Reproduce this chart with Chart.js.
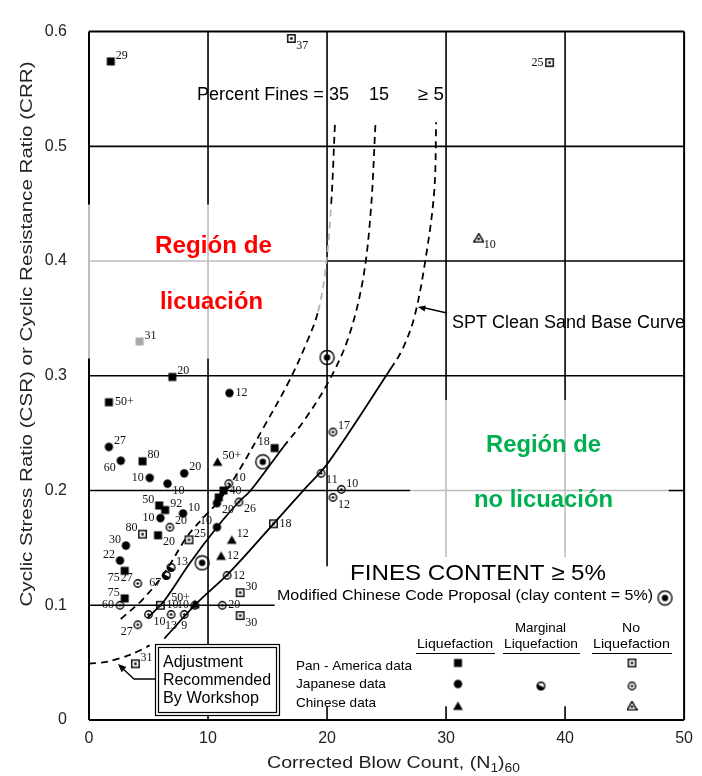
<!DOCTYPE html>
<html><head><meta charset="utf-8">
<script src="https://cdn.jsdelivr.net/npm/chart.js@4.4.1/dist/chart.umd.min.js"></script>
<style>html,body{margin:0;padding:0;background:#fff}canvas{display:block}</style>
</head><body>
<canvas id="c" width="702" height="776"></canvas>
<script>
// ---- axes ----
const xTickValues = [0, 10, 20, 30, 40, 50];
const yTickValues = [0, 0.1, 0.2, 0.3, 0.4, 0.5, 0.6];

// ---- CRR curves (N1)60 vs CRR ----
const fines35N   = [2.67, 4.5, 6.33, 8.25, 9.67, 10.92, 12.58, 14.67, 16.75, 18.25, 19.25, 19.9, 20.35, 20.67];
const fines35CRR = [0.088, 0.105, 0.128, 0.160, 0.177, 0.191, 0.217, 0.255, 0.294, 0.328, 0.356, 0.395, 0.450, 0.521];
const fines15N   = [4.92, 6.33, 8.42, 10.75, 12.58, 13.58, 16.33, 18.0, 20.08, 21.75, 23.0, 23.67, 24.08];
const fines15CRR = [0.089, 0.104, 0.136, 0.168, 0.190, 0.200, 0.238, 0.260, 0.294, 0.332, 0.383, 0.443, 0.522];
const cleanN     = [6.33, 9.08, 11.75, 15.5, 18.0, 20.08, 25.33, 26.33, 27.33, 28.25, 29.0, 29.17];
const cleanCRR   = [0.071, 0.102, 0.128, 0.171, 0.200, 0.224, 0.306, 0.323, 0.351, 0.400, 0.460, 0.521];
const workshopN   = [0, 1.6, 3.5, 5.1];
const workshopCRR = [0.049, 0.051, 0.057, 0.065];

// ---- Pan-American data ----
const panLiqN     = [1.83, 1.67, 7.0, 4.5, 15.6, 11.3, 10.9, 5.9, 6.4, 5.8, 3.0, 3.0];
const panLiqCSR   = [0.574, 0.277, 0.299, 0.2255, 0.237, 0.200, 0.194, 0.187, 0.183, 0.161, 0.130, 0.106];
const panLiqFines = ["29", "50+", "20", "80", "18", "40", "", "50", "92", "20", "75", "75"];
const panLiqGreyN = [4.25];
const panLiqGreyCSR = [0.330];
const panLiqGreyFines = ["31"];
const panNoN     = [17.0, 38.7, 15.5, 4.5, 8.4, 6.0, 12.7, 12.7, 3.9];
const panNoCSR   = [0.594, 0.573, 0.171, 0.162, 0.157, 0.100, 0.111, 0.091, 0.049];
const panNoFines = ["37", "25", "18", "80", "25", "10", "30", "30", "31"];

// ---- Japanese data ----
const japLiqN     = [11.8, 1.67, 2.67, 8.0, 5.1, 6.6, 7.9, 6.0, 3.1, 2.6, 10.75, 10.75];
const japLiqCSR   = [0.285, 0.238, 0.226, 0.215, 0.211, 0.206, 0.180, 0.176, 0.152, 0.139, 0.168, 0.189];
const japLiqFines = ["12", "27", "60", "20", "10", "10", "10", "10", "30", "22", "10", "20"];
const japMargN     = [6.9, 6.5];
const japMargCSR   = [0.133, 0.126];
const japMargFines = ["13", "67"];
const japNoN     = [20.5, 19.5, 21.2, 20.5, 11.75, 12.6, 6.8, 4.1, 2.6, 5.0, 4.1, 6.9, 8.0, 11.6, 11.2, 8.9];
const japNoCSR   = [0.251, 0.215, 0.201, 0.194, 0.206, 0.190, 0.168, 0.119, 0.100, 0.092, 0.083, 0.092, 0.092, 0.126, 0.100, 0.100];
const japNoFines = ["17", "11", "10", "12", "10", "26", "20", "27", "60", "10", "27", "13", "9", "12", "20", "10"];

// ---- Chinese data ----
const chinLiqN     = [10.8, 12.0, 11.1, 8.9];
const chinLiqCSR   = [0.225, 0.157, 0.143, 0.101];
const chinLiqFines = ["50+", "12", "12", "50+"];
const chinNoN     = [32.75];
const chinNoCSR   = [0.42];
const chinNoFines = ["10"];

// ---- Modified Chinese Code proposal (clay content = 5%) ----
const chineseCodeN   = [20.0, 14.6, 9.5];
const chineseCodeCSR = [0.316, 0.225, 0.137];

// where each fines-content tag sits around its marker
const tagSide = {
  panLiq: ['ur','r','ur','ur','ul','r','','ul','ur','dr','dl','ul'],
  panLiqGrey: ['ur'],
  panNo: ['dr','l','r','ul','ur','r','ur','dr','ur'],
  japLiq: ['r','ur','dl','ur','l','dr','ur','l','ul','ul','ul','dr'],
  japMarg: ['ur','dl'],
  japNo: ['ur','dr','ur','dr','ur','dr','ur','ul','l','dr','dl','d','d','r','r','l'],
  chinLiq: ['ur','ur','r','ul'],
  chinNo: ['dr']
};

const pts = (xs, ys) => xs.map((x, i) => ({x, y: ys[i]}));

function makeMarker(kind, color) {
  const s = kind === 'bull' ? 17 : 11;
  const c = document.createElement('canvas');
  c.width = s; c.height = s;
  const g = c.getContext('2d');
  const m = s / 2;
  g.fillStyle = color; g.strokeStyle = color; g.lineWidth = 1.4;
  const tri = () => { g.beginPath(); g.moveTo(m, m - 4.6); g.lineTo(m + 4.9, m + 3.9); g.lineTo(m - 4.9, m + 3.9); g.closePath(); };
  switch (kind) {
    case 'sqFill': g.fillRect(m - 4, m - 4, 8, 8); break;
    case 'sqDot': g.strokeRect(m - 3.7, m - 3.7, 7.4, 7.4); g.fillRect(m - 1.2, m - 1.2, 2.4, 2.4); break;
    case 'cirFill': g.beginPath(); g.arc(m, m, 4.2, 0, 2 * Math.PI); g.fill(); break;
    case 'cirDot': g.beginPath(); g.arc(m, m, 3.7, 0, 2 * Math.PI); g.stroke(); g.beginPath(); g.arc(m, m, 1.3, 0, 2 * Math.PI); g.fill(); break;
    case 'cirHalf': g.beginPath(); g.arc(m, m, 3.8, 0, 2 * Math.PI); g.stroke(); g.beginPath(); g.arc(m, m, 4.4, 0.15 * Math.PI, 1.15 * Math.PI); g.closePath(); g.fill(); break;
    case 'triFill': tri(); g.fill(); break;
    case 'triDot': tri(); g.stroke(); g.beginPath(); g.arc(m, m + 0.8, 1.3, 0, 2 * Math.PI); g.fill(); break;
    case 'bull': g.beginPath(); g.arc(m, m, 7, 0, 2 * Math.PI); g.stroke(); g.beginPath(); g.arc(m, m, 3.2, 0, 2 * Math.PI); g.fill(); break;
  }
  return c;
}
const MK = {
  sqFill: makeMarker('sqFill', '#000'), sqGrey: makeMarker('sqFill', '#aaa'), sqDot: makeMarker('sqDot', '#000'),
  cirFill: makeMarker('cirFill', '#000'), cirDot: makeMarker('cirDot', '#000'), cirHalf: makeMarker('cirHalf', '#000'),
  triFill: makeMarker('triFill', '#000'), triDot: makeMarker('triDot', '#000'), bull: makeMarker('bull', '#000')
};

const curve = (xs, ys, extra) => Object.assign({
  type: 'scatter', data: pts(xs, ys), showLine: true, pointRadius: 0, borderColor: '#000',
  borderWidth: 1.8, tension: 0.35, fill: false, order: 2
}, extra);
const marks = (xs, ys, tags, key, img) => ({
  type: 'scatter', data: pts(xs, ys), pointStyle: img, pointRadius: 5, tags, side: tagSide[key], order: 1
});
const dash = [7, 5];

const datasets = [
  curve(fines35N, fines35CRR, {segment: {
    borderDash: () => dash,
    borderColor: c => (c.p0.parsed.y >= 0.33 && c.p1.parsed.y <= 0.46) ? '#b5b5b5' : '#000'
  }}),
  curve(fines15N, fines15CRR, {segment: {borderDash: c => c.p0.parsed.y >= 0.237 ? dash : undefined}}),
  curve(cleanN, cleanCRR, {segment: {borderDash: c => c.p0.parsed.y >= 0.305 ? dash : undefined}}),
  curve(workshopN, workshopCRR, {borderDash: dash, tension: 0.3}),
  marks(panLiqN, panLiqCSR, panLiqFines, 'panLiq', MK.sqFill),
  marks(panLiqGreyN, panLiqGreyCSR, panLiqGreyFines, 'panLiqGrey', MK.sqGrey),
  marks(panNoN, panNoCSR, panNoFines, 'panNo', MK.sqDot),
  marks(japLiqN, japLiqCSR, japLiqFines, 'japLiq', MK.cirFill),
  marks(japMargN, japMargCSR, japMargFines, 'japMarg', MK.cirHalf),
  marks(japNoN, japNoCSR, japNoFines, 'japNo', MK.cirDot),
  marks(chinLiqN, chinLiqCSR, chinLiqFines, 'chinLiq', MK.triFill),
  marks(chinNoN, chinNoCSR, chinNoFines, 'chinNo', MK.triDot),
  marks(chineseCodeN, chineseCodeCSR, [], 'none', MK.bull)
];

// grid segments: [direction, value, from, to, colour]
const GREY = '#bdbdbd';
const gridSegs = [
  ['h', 0.5, 0, 50, '#000'],
  ['h', 0.4, 0, 20, GREY], ['h', 0.4, 20, 50, '#000'],
  ['h', 0.3, 0, 50, '#000'],
  ['h', 0.2, 0, 27.0, '#000'], ['h', 0.2, 27.0, 48.7, GREY], ['h', 0.2, 48.7, 50, '#000'],
  ['h', 0.1, 0, 15.6, '#000'],
  ['v', 10, 0.449, 0.6, '#000'], ['v', 10, 0.315, 0.449, GREY], ['v', 10, 0, 0.315, '#000'],
  ['v', 20, 0.134, 0.6, '#000'], ['v', 20, 0, 0.012, '#000'],
  ['v', 30, 0.279, 0.6, '#000'], ['v', 30, 0.142, 0.279, GREY], ['v', 30, 0, 0.012, '#000'],
  ['v', 40, 0.279, 0.6, '#000'], ['v', 40, 0.142, 0.279, GREY], ['v', 40, 0, 0.012, '#000'],
  ['v', 0, 0.449, 0.6, '#000'], ['v', 0, 0.315, 0.449, GREY], ['v', 0, 0, 0.315, '#000'],
  ['v', 50, 0, 0.6, '#000'], ['h', 0, 0, 50, '#000'], ['h', 0.6, 0, 50, '#000']
];

function fitText(g, s, x, y, font, color, width, align) {
  g.save(); g.font = font; g.fillStyle = color; g.textBaseline = 'alphabetic';
  const w = g.measureText(s).width;
  const k = width ? width / w : 1;
  const left = align === 'center' ? x - w * k / 2 : (align === 'right' ? x - w * k : x);
  g.translate(left, y); g.scale(k, 1); g.textAlign = 'left'; g.fillText(s, 0, 0);
  g.restore();
}
function arrowHead(g, x1, y1, x2, y2, len) {
  const a = Math.atan2(y2 - y1, x2 - x1);
  g.beginPath(); g.moveTo(x2, y2);
  g.lineTo(x2 - len * Math.cos(a - 0.4), y2 - len * Math.sin(a - 0.4));
  g.lineTo(x2 - len * Math.cos(a + 0.4), y2 - len * Math.sin(a + 0.4));
  g.closePath(); g.fill();
}

const gridPlugin = {
  id: 'grid',
  beforeDatasetsDraw(chart) {
    const g = chart.ctx, xs = chart.scales.x, ys = chart.scales.y;
    g.save(); g.lineCap = 'butt';
    gridSegs.forEach(([d, v, a, b, col]) => {
      g.strokeStyle = col; g.lineWidth = (v === 0 || v === 50 || (d === 'h' && v === 0.6)) ? 2 : 1.6;
      g.beginPath();
      if (d === 'h') { const y = ys.getPixelForValue(v); g.moveTo(xs.getPixelForValue(a), y); g.lineTo(xs.getPixelForValue(b), y); }
      else { const x = xs.getPixelForValue(v); g.moveTo(x, ys.getPixelForValue(a)); g.lineTo(x, ys.getPixelForValue(b)); }
      g.stroke();
    });
    g.restore();
  }
};

const tagPlugin = {
  id: 'tags',
  afterDatasetsDraw(chart) {
    const g = chart.ctx;
    g.save(); g.font = '12px "Liberation Serif"'; g.fillStyle = '#111';
    chart.data.datasets.forEach((ds, di) => {
      if (!ds.tags) return;
      const meta = chart.getDatasetMeta(di);
      meta.data.forEach((p, i) => {
        const t = ds.tags[i]; if (!t) return;
        const s = ds.side[i];
        let x = p.x, y = p.y;
        g.textAlign = 'left'; g.textBaseline = 'middle';
        if (s === 'r') { x += 6; }
        else if (s === 'ur') { x += 5; y -= 6; }
        else if (s === 'dr') { x += 5; y += 7; }
        else if (s === 'l') { x -= 6; g.textAlign = 'right'; }
        else if (s === 'ul') { x -= 5; y -= 6; g.textAlign = 'right'; }
        else if (s === 'dl') { x -= 5; y += 7; g.textAlign = 'right'; }
        else if (s === 'u') { y -= 10; g.textAlign = 'center'; }
        else if (s === 'd') { y += 11; g.textAlign = 'center'; }
        g.fillText(t, x, y);
      });
    });
    g.restore();
  }
};

const notePlugin = {
  id: 'notes',
  afterDatasetsDraw(chart) {
    const g = chart.ctx;
    const SANS = '"Liberation Sans", Arial, sans-serif';
    // workshop box
    g.save();
    g.fillStyle = '#fff'; g.fillRect(155, 644, 125, 72);
    g.strokeStyle = '#000'; g.lineWidth = 1.2;
    g.strokeRect(155.5, 644.5, 124, 71);
    g.strokeRect(158.5, 647.5, 118, 65);
    fitText(g, 'Adjustment', 163, 667, '16px ' + SANS, '#000', 80);
    fitText(g, 'Recommended', 163, 685, '16px ' + SANS, '#000', 108);
    fitText(g, 'By Workshop', 163, 703, '16px ' + SANS, '#000', 96);
    g.lineWidth = 1.4; g.fillStyle = '#000';
    g.beginPath(); g.moveTo(155, 679); g.lineTo(134, 679); g.lineTo(121, 667); g.stroke();
    arrowHead(g, 134, 679, 118, 664, 9);

    // fines labels above curves
    fitText(g, 'Percent Fines = 35', 197, 100, '18px ' + SANS, '#000', 152);
    fitText(g, '15', 369, 100, '18px ' + SANS, '#000', 20);
    fitText(g, '\u2265 5', 418, 100, '18px ' + SANS, '#000', 26);

    // base curve callout
    fitText(g, 'SPT Clean Sand Base Curve', 452, 328, '18px ' + SANS, '#000', 233);
    g.lineWidth = 1.3; g.beginPath(); g.moveTo(447, 313); g.lineTo(425, 308); g.stroke();
    arrowHead(g, 447, 313, 418, 307, 8);

    // regions
    fitText(g, 'Regi\u00f3n de', 155, 253, 'bold 24px ' + SANS, '#ff0000', 117);
    fitText(g, 'licuaci\u00f3n', 160, 309, 'bold 24px ' + SANS, '#ff0000', 103);
    fitText(g, 'Regi\u00f3n de', 486, 452, 'bold 24px ' + SANS, '#00b050', 115);
    fitText(g, 'no licuaci\u00f3n', 474, 507, 'bold 24px ' + SANS, '#00b050', 139);

    // fines content heading and Chinese code note
    fitText(g, 'FINES CONTENT \u2265 5%', 350, 580, '22px ' + SANS, '#000', 256);
    fitText(g, 'Modified Chinese Code Proposal (clay content = 5%)', 277, 600, '14px ' + SANS, '#000', 376);
    g.drawImage(MK.bull, 665 - 8.5, 598 - 8.5);

    // key table
    const F = '13px ' + SANS;
    fitText(g, 'Liquefaction', 417, 648, F, '#000', 76);
    fitText(g, 'Marginal', 515, 632, F, '#000', 51);
    fitText(g, 'Liquefaction', 504, 648, F, '#000', 74);
    fitText(g, 'No', 622, 632, F, '#000', 18);
    fitText(g, 'Liquefaction', 593, 648, F, '#000', 77);
    g.lineWidth = 1.2; g.beginPath();
    [[416, 495], [503, 580], [592, 672]].forEach(([a, b]) => { g.moveTo(a, 653.5); g.lineTo(b, 653.5); });
    g.stroke();
    fitText(g, 'Pan - America data', 296, 670, F, '#000', 116);
    fitText(g, 'Japanese data', 296, 688, F, '#000', 90);
    fitText(g, 'Chinese data', 296, 707, F, '#000', 80);
    const put = (img, x, y) => g.drawImage(img, x - img.width / 2, y - img.height / 2);
    put(MK.sqFill, 458, 663); put(MK.cirFill, 458, 684); put(MK.triFill, 458, 706);
    put(MK.cirHalf, 541, 686);
    put(MK.sqDot, 632, 663); put(MK.cirDot, 632, 686); put(MK.triDot, 632, 706);

    // axis titles
    g.save(); g.translate(32, 334); g.rotate(-Math.PI / 2);
    fitText(g, 'Cyclic Stress Ratio (CSR) or Cyclic Resistance Ratio (CRR)', 0, 0, '16px ' + SANS, '#222', 545, 'center');
    g.restore();
    g.save(); g.font = '17px ' + SANS; g.fillStyle = '#222';
    const parts = [['Corrected Blow Count, (N', 0], ['1', 1], [')', 0], ['60', 1]];
    let tot = 0;
    parts.forEach(([s, sub]) => { g.font = (sub ? '12px ' : '17px ') + SANS; tot += g.measureText(s).width; });
    const k = 253 / tot;
    g.translate(267, 768); g.scale(k, 1);
    let cx = 0;
    parts.forEach(([s, sub]) => { g.font = (sub ? '12px ' : '17px ') + SANS; g.fillText(s, cx, sub ? 4 : 0); cx += g.measureText(s).width; });
    g.restore();
    g.restore();
  }
};

new Chart(document.getElementById('c'), {
  type: 'scatter',
  data: {datasets},
  options: {
    responsive: false, animation: false, events: [], devicePixelRatio: 1,
    layout: {padding: {left: 0, top: 15, right: 14, bottom: 0}},
    plugins: {legend: {display: false}, tooltip: {enabled: false}},
    scales: {
      x: {
        type: 'linear', min: xTickValues[0], max: xTickValues[xTickValues.length - 1],
        afterBuildTicks: s => { s.ticks = xTickValues.map(v => ({value: v})); },
        afterFit: s => { s.height = 56; },
        grid: {display: false, drawTicks: false}, border: {display: false},
        ticks: {font: {family: 'Liberation Sans', size: 16}, color: '#222', padding: 9, maxRotation: 0}
      },
      y: {
        type: 'linear', min: yTickValues[0], max: yTickValues[yTickValues.length - 1],
        afterBuildTicks: s => { s.ticks = yTickValues.map(v => ({value: v})); },
        afterFit: s => { s.width = 89; },
        grid: {display: false, drawTicks: false}, border: {display: false},
        ticks: {font: {family: 'Liberation Sans', size: 16}, color: '#222', padding: 22,
          callback: v => v === 0 ? '0' : v.toFixed(1)}
      }
    }
  },
  plugins: [gridPlugin, tagPlugin, notePlugin]
});
</script>
</body></html>
